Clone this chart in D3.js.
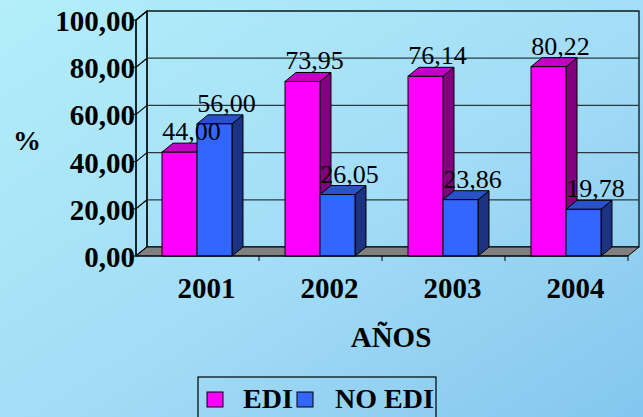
<!DOCTYPE html>
<html>
<head>
<meta charset="utf-8">
<script src="https://cdn.jsdelivr.net/npm/d3@7"></script>
<style>
  body { margin: 0; padding: 0; }
  svg { display: block; }
  text { font-family: "Liberation Serif", "Times New Roman", serif; }
</style>
</head>
<body>
<svg id="chart" width="643" height="417"></svg>
<script>
// data
const years = ["2001", "2002", "2003", "2004"];
const seriesNames = ["EDI", "NO EDI"];
const edi = [44.00, 73.95, 76.14, 80.22];
const noEdi = [56.00, 26.05, 23.86, 19.78];
const yTicks = [0, 20, 40, 60, 80, 100];

const colors = {
    "EDI": { front: "#ff00ff", top: "#c400c4", side: "#800080" },
    "NO EDI": { front: "#3366ff", top: "#2a52c8", side: "#1b3382" }
};

const svg = d3.select("#chart");
const width = 643, height = 417;

// background gradient
const defs = svg.append("defs");
const grad = defs.append("linearGradient")
    .attr("id", "bg")
    .attr("x1", "0%").attr("y1", "0%")
    .attr("x2", "100%").attr("y2", "100%");
grad.append("stop").attr("offset", "0%").attr("stop-color", "#b3eefa");
grad.append("stop").attr("offset", "55%").attr("stop-color", "#a2dcf6");
grad.append("stop").attr("offset", "100%").attr("stop-color", "#84c6ee");
svg.append("rect").attr("width", width).attr("height", height).attr("fill", "url(#bg)");

// 3d frame
const left = 136, right = 628, floorY = 256, topY = 20;
const dx = 11, dy = -9;
const fmt = v => d3.format(".2f")(v).replace(".", ",");

const x = d3.scaleBand().domain(years).range([left, right]);
const xInner = d3.scaleBand().domain(seriesNames).range([26, 96]);
const y = d3.scaleLinear().domain([0, 100]).range([floorY, topY]);

// back wall
svg.append("rect")
    .attr("x", left + dx).attr("y", y(100) + dy)
    .attr("width", right - left).attr("height", y(0) - y(100))
    .attr("fill", "none").attr("stroke", "#000").attr("stroke-width", 1.2);

// side wall
svg.append("polygon")
    .attr("points", [[left, y(100)], [left + dx, y(100) + dy], [left + dx, y(0) + dy], [left, y(0)]].join(" "))
    .attr("fill", "none").attr("stroke", "#000").attr("stroke-width", 1.2);

// gridlines on back wall and side wall
const grid = svg.append("g");
yTicks.forEach(function(t){
    grid.append("line")
        .attr("x1", left + dx).attr("x2", right + dx)
        .attr("y1", y(t) + dy).attr("y2", y(t) + dy)
        .attr("stroke", "#2b3a40").attr("stroke-width", 1.2);
    grid.append("line")
        .attr("x1", left).attr("x2", left + dx)
        .attr("y1", y(t)).attr("y2", y(t) + dy)
        .attr("stroke", "#000").attr("stroke-width", 1.2);
});

// floor
svg.append("polygon")
    .attr("points", [[left, y(0)], [left + dx, y(0) + dy], [right + dx, y(0) + dy], [right, y(0)]].join(" "))
    .attr("fill", "#808080").attr("stroke", "#000").attr("stroke-width", 1);

// bars
const rows = years.map((yr, i) => ({ year: yr, values: [
    { key: "EDI", value: edi[i] },
    { key: "NO EDI", value: noEdi[i] }
]}));

const bw = xInner.bandwidth();
const groups = svg.selectAll(".cat")
    .data(rows)
    .enter()
    .append("g")
    .attr("class", "cat")
    .attr("transform", d => "translate(" + x(d.year) + ",0)");

groups.each(function(row){
    const g = d3.select(this);
    row.values.forEach(function(d){
        const bx = xInner(d.key), by = y(d.value), c = colors[d.key];
        // side
        g.append("polygon")
            .attr("points", [[bx + bw, by], [bx + bw + dx, by + dy], [bx + bw + dx, y(0) + dy], [bx + bw, y(0)]].join(" "))
            .attr("fill", c.side).attr("stroke", "#000").attr("stroke-width", 1);
        // top
        g.append("polygon")
            .attr("points", [[bx, by], [bx + dx, by + dy], [bx + bw + dx, by + dy], [bx + bw, by]].join(" "))
            .attr("fill", c.top).attr("stroke", "#000").attr("stroke-width", 1);
        // front
        g.append("rect")
            .attr("x", bx).attr("y", by)
            .attr("width", bw).attr("height", y(0) - by)
            .attr("fill", c.front).attr("stroke", "#000").attr("stroke-width", 1);
    });
});

// value labels
groups.each(function(row){
    d3.select(this).selectAll(".val")
        .data(row.values)
        .enter()
        .append("text")
        .attr("class", "val")
        .attr("x", d => xInner(d.key) + bw / 2 + 12)
        .attr("y", d => y(d.value) - 12)
        .attr("text-anchor", "middle")
        .attr("font-size", 26)
        .attr("fill", "#000")
        .text(d => fmt(d.value));
});

// front axes
svg.append("line")
    .attr("x1", left).attr("x2", left).attr("y1", y(100)).attr("y2", y(0))
    .attr("stroke", "#000").attr("stroke-width", 1.2);
svg.append("line")
    .attr("x1", left).attr("x2", right).attr("y1", y(0)).attr("y2", y(0))
    .attr("stroke", "#000").attr("stroke-width", 1.2);
yTicks.forEach(function(t){
    svg.append("line")
        .attr("x1", left - 4).attr("x2", left).attr("y1", y(t)).attr("y2", y(t))
        .attr("stroke", "#000");
});
x.domain().forEach(function(yr){
    svg.append("line")
        .attr("x1", x(yr) + x.bandwidth()).attr("x2", x(yr) + x.bandwidth())
        .attr("y1", y(0)).attr("y2", y(0) + 5)
        .attr("stroke", "#000");
});

// y tick labels
svg.selectAll(".ytick")
    .data(yTicks)
    .enter()
    .append("text")
    .attr("class", "ytick")
    .attr("x", left - 1)
    .attr("y", d => y(d) + 11)
    .attr("text-anchor", "end")
    .attr("font-size", 29)
    .attr("font-weight", "bold")
    .text(d => fmt(d));

// x labels
svg.selectAll(".xtick")
    .data(years)
    .enter()
    .append("text")
    .attr("class", "xtick")
    .attr("x", d => x(d) + x.bandwidth() / 2 + 9)
    .attr("y", 298)
    .attr("text-anchor", "middle")
    .attr("font-size", 29)
    .attr("font-weight", "bold")
    .text(d => d);

// axis titles
svg.append("text")
    .attr("x", 391).attr("y", 347)
    .attr("text-anchor", "middle")
    .attr("font-size", 29).attr("font-weight", "bold")
    .text("AÑOS");
svg.append("text")
    .attr("x", 27).attr("y", 150)
    .attr("text-anchor", "middle")
    .attr("font-size", 28).attr("font-weight", "bold")
    .text("%");

// legend
const legend = svg.append("g").attr("transform", "translate(198,377)");
legend.append("rect")
    .attr("width", 238).attr("height", 50)
    .attr("fill", "none").attr("stroke", "#000").attr("stroke-width", 1.2);
const legendX = [9, 99];
const legendTextX = [45, 137];
seriesNames.forEach(function(s, i){
    legend.append("rect")
        .attr("x", legendX[i]).attr("y", 15)
        .attr("width", 16).attr("height", 15)
        .attr("fill", colors[s].front).attr("stroke", "#000").attr("stroke-width", 1);
    legend.append("text")
        .attr("x", legendTextX[i]).attr("y", 31)
        .attr("font-size", 28).attr("font-weight", "bold")
        .text(s);
});
</script>
</body>
</html>
